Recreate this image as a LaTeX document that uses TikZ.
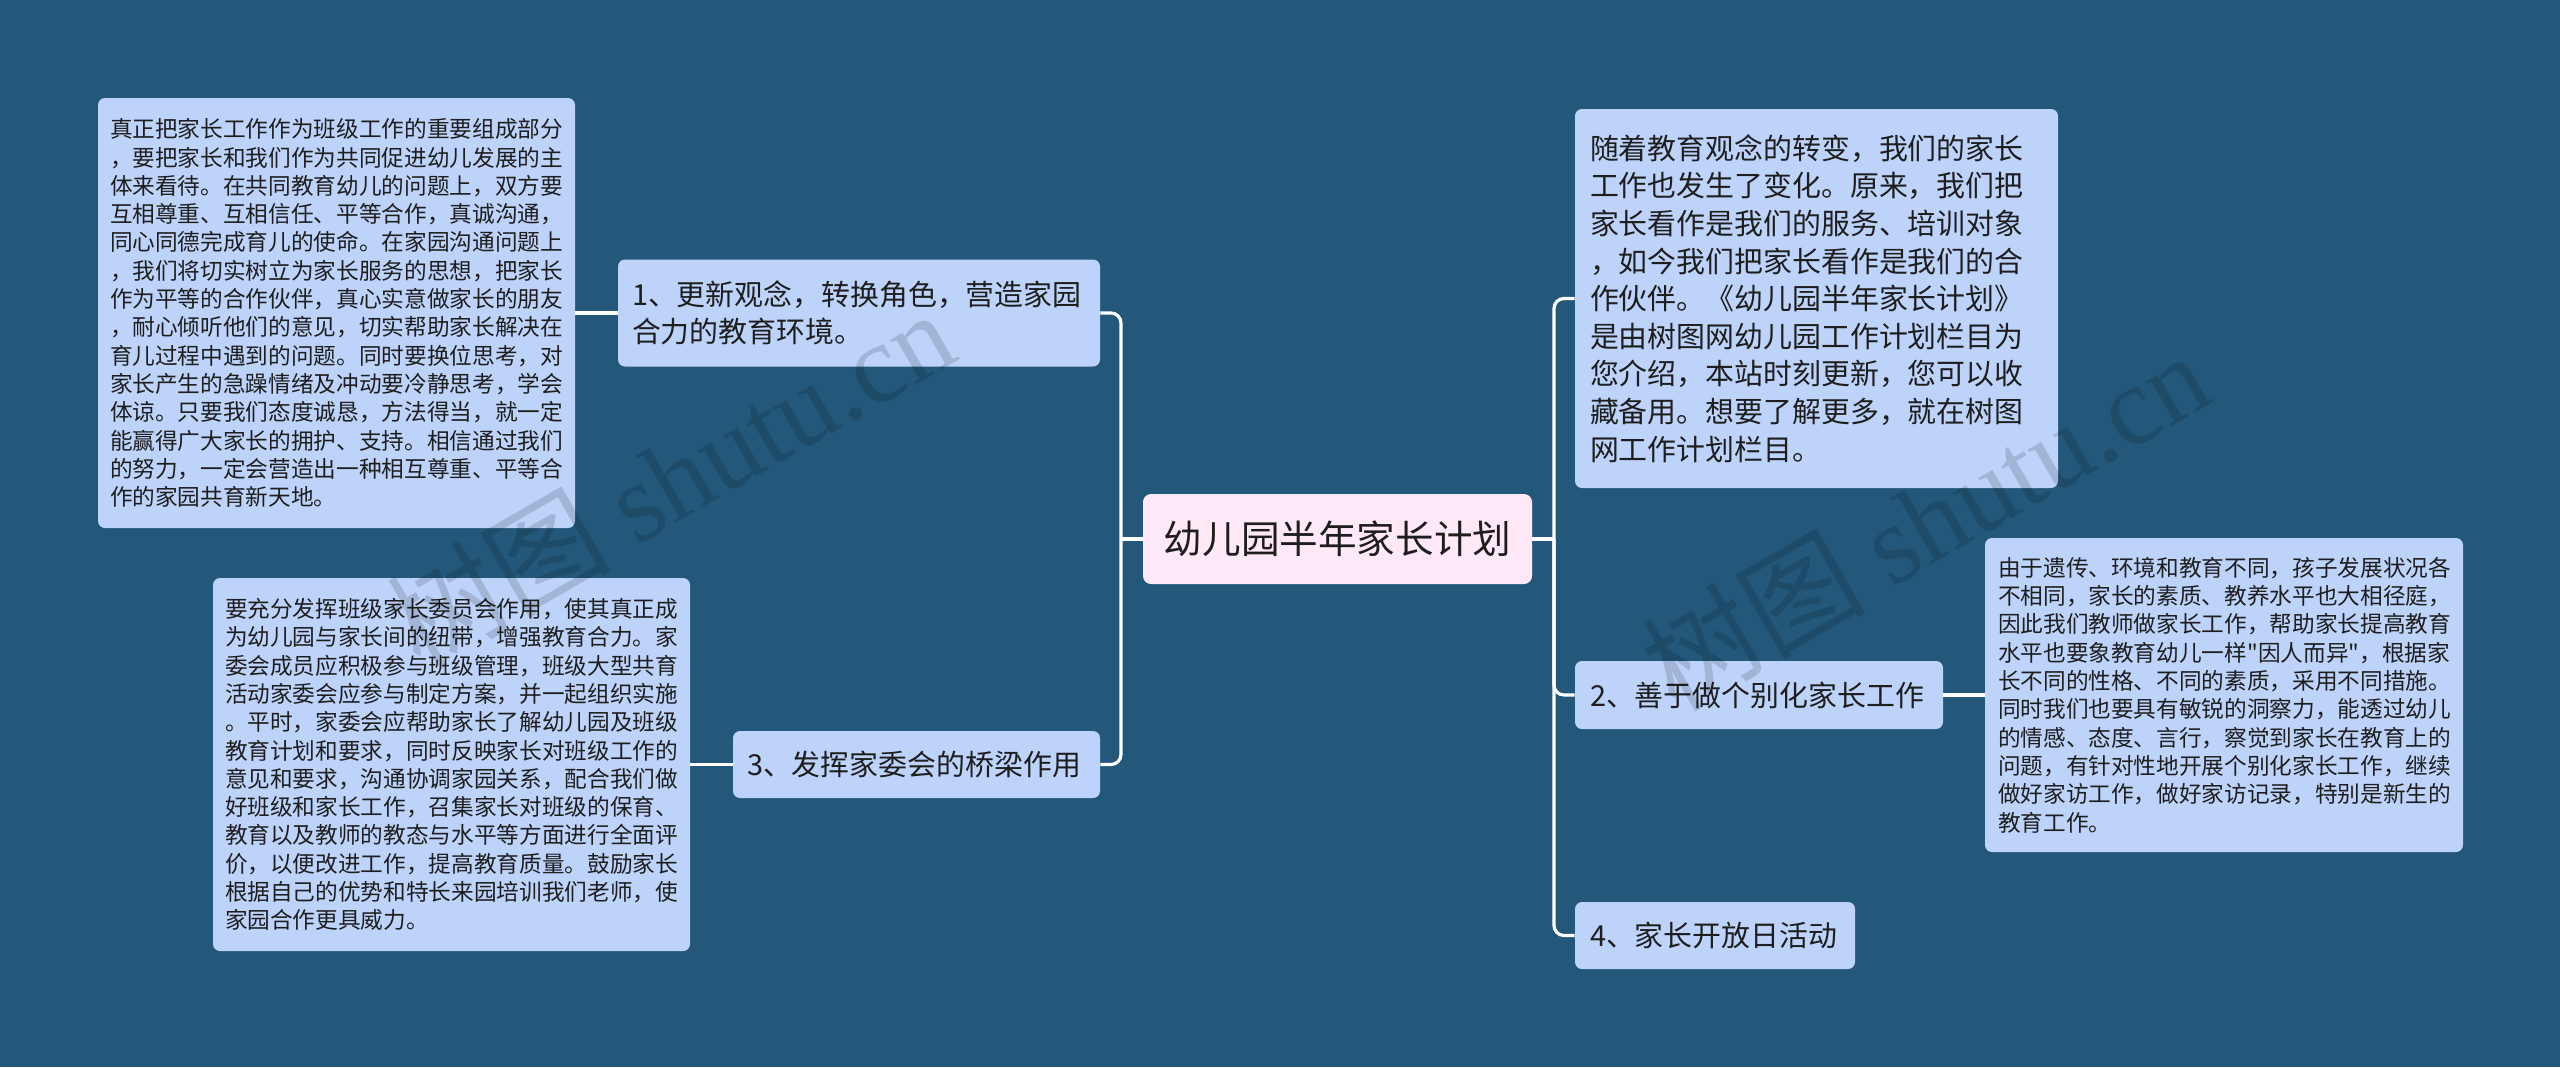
\documentclass[tikz,border=0pt]{standalone}
\usepackage{fontspec}
\setmainfont{Noto Sans CJK SC}[Ligatures=TeXOff]
\newfontfamily\wmfont{Liberation Serif}
\usepackage{xcolor}
\definecolor{bgblue}{RGB}{35, 88, 122}
\definecolor{boxblue}{RGB}{190, 211, 250}
\definecolor{rootpink}{RGB}{255, 232, 248}
\definecolor{inkgray}{RGB}{30, 30, 30}
\newcommand\leaffont{\fontsize{11.33pt}{14.15pt}\selectfont}
\newcommand\topicfont{\fontsize{14.45pt}{18.8pt}\selectfont}
\newcommand\rootfont{\fontsize{19.3pt}{24pt}\selectfont}

\begin{document}
\begin{tikzpicture}[x=0.5pt, y=-0.5pt,
    conn/.style={draw=white, line width=1.6pt, rounded corners=5pt},
    leafbox/.style={fill=boxblue, rounded corners=3.5pt, text=inkgray, font=\leaffont,
      align=left, text width=226.5pt, inner xsep=6pt, inner ysep=0pt},
    topicbox/.style={fill=boxblue, rounded corners=3.5pt, text=inkgray, font=\topicfont,
      align=left, inner xsep=7.5pt, inner ysep=0pt},
    rootbox/.style={fill=rootpink, rounded corners=4pt, text=inkgray, font=\rootfont,
      align=center, inner xsep=10pt, inner ysep=0pt},
    wmark/.style={text=black, opacity=0.14, font=\fontsize{56pt}{60pt}\selectfont}]
  % 背景
  \fill[bgblue] (0,0) rectangle (2560,1067);
  % 中心
  \node[rootbox, text width=174.5pt, minimum height=45pt] (root) at (1337.5,539) {幼儿园半年家长计划};
  % 左侧分支
  \node[topicbox, text width=227pt, inner xsep=7pt, minimum height=53.5pt] (t1) at (859,313) {1、更新观念，转换角色，营造家园\\合力的教育环境。};
  \node[topicbox, text width=169.5pt, inner xsep=7pt, minimum height=33.5pt] (t3) at (916.5,764.5) {3、发挥家委会的桥梁作用};
  \node[leafbox, minimum height=215pt] (l1) at (336.5,313) {真正把家长工作作为班级工作的重要组成部分\\
，要把家长和我们作为共同促进幼儿发展的主\\
体来看待。在共同教育幼儿的问题上，双方要\\
互相尊重、互相信任、平等合作，真诚沟通，\\
同心同德完成育儿的使命。在家园沟通问题上\\
，我们将切实树立为家长服务的思想，把家长\\
作为平等的合作伙伴，真心实意做家长的朋友\\
，耐心倾听他们的意见，切实帮助家长解决在\\
育儿过程中遇到的问题。同时要换位思考，对\\
家长产生的急躁情绪及冲动要冷静思考，学会\\
体谅。只要我们态度诚恳，方法得当，就一定\\
能赢得广大家长的拥护、支持。相信通过我们\\
的努力，一定会营造出一种相互尊重、平等合\\
作的家园共育新天地。};
  \node[leafbox, minimum height=186.5pt] (l3) at (451.5,764.5) {要充分发挥班级家长委员会作用，使其真正成\\
为幼儿园与家长间的纽带，增强教育合力。家\\
委会成员应积极参与班级管理，班级大型共育\\
活动家委会应参与制定方案，并一起组织实施\\
。平时，家委会应帮助家长了解幼儿园及班级\\
教育计划和要求，同时反映家长对班级工作的\\
意见和要求，沟通协调家园关系，配合我们做\\
好班级和家长工作，召集家长对班级的保育、\\
教育以及教师的教态与水平等方面进行全面评\\
价，以便改进工作，提高教育质量。鼓励家长\\
根据自己的优势和特长来园培训我们老师，使\\
家园合作更具威力。};
  % 右侧分支
  \node[topicbox, text width=226.5pt, minimum height=189.5pt] (intro) at (1816.5,298.5) {随着教育观念的转变，我们的家长\\
工作也发生了变化。原来，我们把\\
家长看作是我们的服务、培训对象\\
，如今我们把家长看作是我们的合\\
作伙伴。《幼儿园半年家长计划》\\
是由树图网幼儿园工作计划栏目为\\
您介绍，本站时刻更新，您可以收\\
藏备用。想要了解更多，就在树图\\
网工作计划栏目。};
  \node[topicbox, text width=169pt, minimum height=34pt] (t2) at (1759,695) {2、善于做个别化家长工作};
  \node[topicbox, text width=125pt, minimum height=33.5pt] (t4) at (1715,935.5) {4、家长开放日活动};
  \node[leafbox, text width=226pt, inner xsep=6.5pt, minimum height=157pt] (l2) at (2224,695) {由于遗传、环境和教育不同，孩子发展状况各\\
不相同，家长的素质、教养水平也大相径庭，\\
因此我们教师做家长工作，帮助家长提高教育\\
水平也要象教育幼儿一样"因人而异"，根据家\\
长不同的性格、不同的素质，采用不同措施。\\
同时我们也要具有敏锐的洞察力，能透过幼儿\\
的情感、态度、言行，察觉到家长在教育上的\\
问题，有针对性地开展个别化家长工作，继续\\
做好家访工作，做好家访记录，特别是新生的\\
教育工作。};
  % 连线
  \coordinate (lsp) at (1121,539);
  \coordinate (rsp) at (1554,539);
  \draw[conn] (root.west) -- (lsp);
  \draw[conn] (lsp) |- (t1.east);
  \draw[conn] (lsp) |- (t3.east);
  \draw[conn] (root.east) -- (rsp);
  \draw[conn] (rsp) |- (intro.west);
  \draw[conn] (rsp) |- (t2.west);
  \draw[conn] (rsp) |- (t4.west);
  \draw[conn] (t1.west) -- (l1.east);
  \draw[conn] (t3.west) -- (l3.east);
  \draw[conn] (t2.east) -- (l2.west);
  % 水印
  \node[wmark, rotate=30] (wm1) at (670,478) {树图 {\wmfont shutu.cn}};
  \node[wmark, rotate=30] (wm2) at (1925,520) {树图 {\wmfont shutu.cn}};
\end{tikzpicture}
\end{document}
